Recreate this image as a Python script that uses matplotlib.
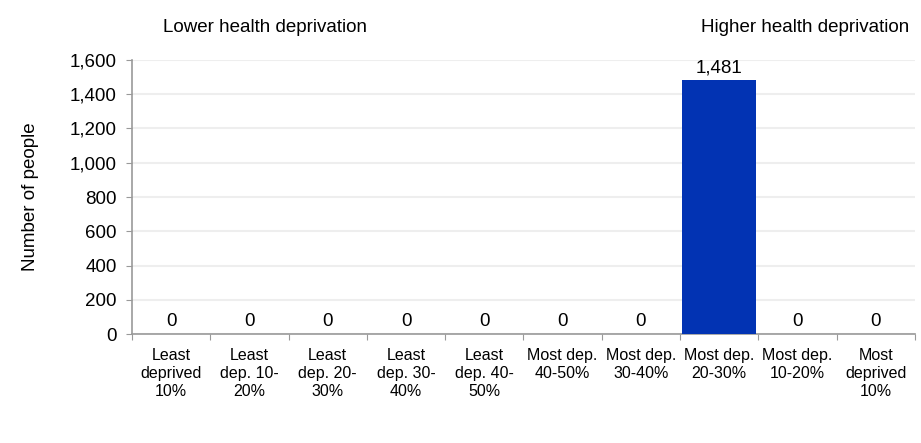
import matplotlib.pyplot as plt
from matplotlib.ticker import FuncFormatter

plt.rcParams['font.family'] = ['Liberation Sans', 'DejaVu Sans']

categories = ['Least\ndeprived\n10%', 'Least\ndep. 10-\n20%', 'Least\ndep. 20-\n30%',
              'Least\ndep. 30-\n40%', 'Least\ndep. 40-\n50%', 'Most dep.\n40-50%',
              'Most dep.\n30-40%', 'Most dep.\n20-30%', 'Most dep.\n10-20%',
              'Most\ndeprived\n10%']
values = [0, 0, 0, 0, 0, 0, 0, 1481, 0, 0]
y_ticks = [0, 200, 400, 600, 800, 1000, 1200, 1400, 1600]

fig = plt.figure(figsize=(9.21, 4.43), dpi=100)
ax = fig.add_axes([0.1433, 0.246, 0.8502, 0.6186])

x = range(len(categories))
ax.bar(x, values, width=0.95, color='#0233b3', zorder=3)

for xi, v in zip(x, values):
    ax.text(xi, v + 25, f'{v:,}', ha='center', va='bottom', fontsize=13.5, color='black')

ax.set_xlim(-0.5, len(categories) - 0.5)
ax.set_ylim(0, 1600)
ax.set_yticks(y_ticks)
ax.yaxis.set_major_formatter(FuncFormatter(lambda v, p: f'{int(v):,}'))
ax.tick_params(axis='y', labelsize=13.5, length=4, color='#999999', pad=7)
ax.grid(axis='y', color='#eeeeee', linewidth=1.5, zorder=0)

ax.set_xticks([i + 0.5 for i in range(-1, len(categories))])
ax.set_xticklabels([])
ax.set_xticks(list(x), minor=True)
ax.set_xticklabels(categories, minor=True, fontsize=11.5, linespacing=1.25)
ax.tick_params(axis='x', which='major', length=4, color='#999999')
ax.tick_params(axis='x', which='minor', length=0, pad=10)

for side in ['top', 'right']:
    ax.spines[side].set_visible(False)
for side in ['left', 'bottom']:
    ax.spines[side].set_color('#999999')
    ax.spines[side].set_linewidth(1.2)

ax.set_ylabel('Number of people', fontsize=13.5, labelpad=22)

fig.text(265 / 921, 1 - 27 / 443, 'Lower health deprivation', ha='center', va='center', fontsize=13.5)
fig.text(805 / 921, 1 - 28 / 443, 'Higher health deprivation', ha='center', va='center', fontsize=13.5)

fig.savefig('out.png', dpi=100)
